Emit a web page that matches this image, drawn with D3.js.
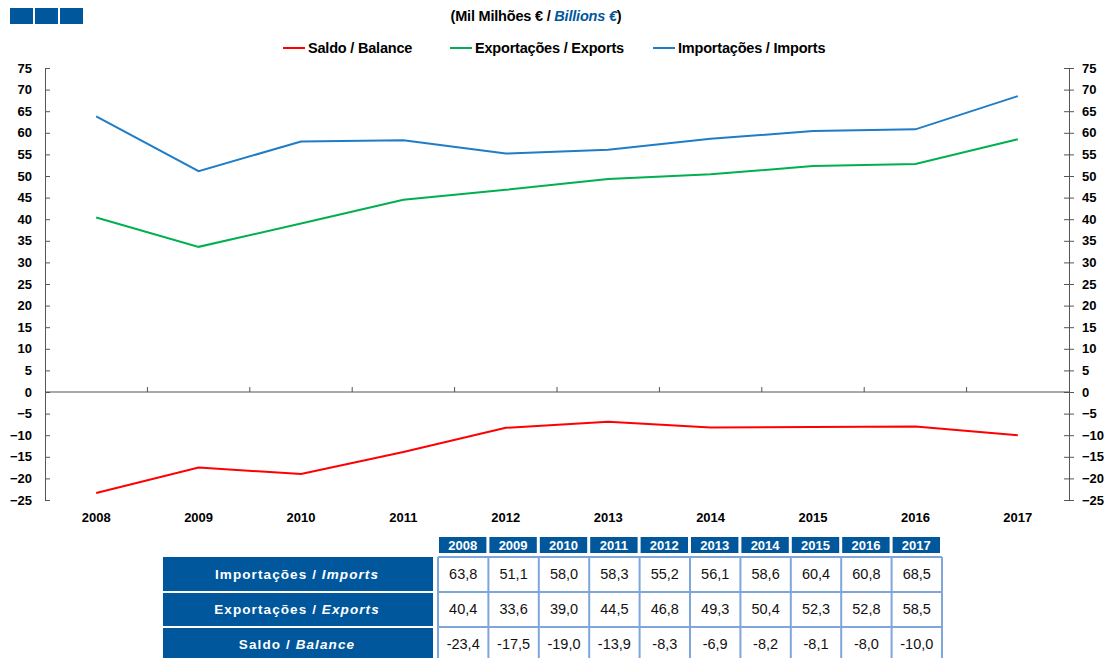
<!DOCTYPE html>
<html>
<head>
<meta charset="utf-8">
<script src="https://cdnjs.cloudflare.com/ajax/libs/d3/7.8.5/d3.min.js"></script>
<style>
  body { margin: 0; background: #fff; }
  svg { font-family: "Liberation Sans", Arial, sans-serif; }
</style>
</head>
<body>
<svg id="chart" width="1105" height="658"></svg>
<script>
const years = ["2008", "2009", "2010", "2011", "2012", "2013", "2014", "2015", "2016", "2017"];
const imports = [63.8, 51.1, 58.0, 58.3, 55.2, 56.1, 58.6, 60.4, 60.8, 68.5];
const exports_ = [40.4, 33.6, 39.0, 44.5, 46.8, 49.3, 50.4, 52.3, 52.8, 58.5];
const balance = [-23.4, -17.5, -19.0, -13.9, -8.3, -6.9, -8.2, -8.1, -8.0, -10.0];
const yTicks = d3.range(-25, 80, 5);

const series = [
  { name: "Saldo / Balance", values: balance, color: "#ff0000" },
  { name: "Exportações / Exports", values: exports_, color: "#00b050" },
  { name: "Importações / Imports", values: imports, color: "#1f7cc6" }
];
const tableRows = [
  { pt: "Importações / ", en: "Imports", values: imports },
  { pt: "Exportações / ", en: "Exports", values: exports_ },
  { pt: "Saldo / ", en: "Balance", values: balance }
];

const navy = "#00579c";
const svg = d3.select("#chart");

// header squares
svg.selectAll("rect.sq").data([0, 1, 2]).enter().append("rect")
  .attr("x", d => 10 + d * 25).attr("y", 8).attr("width", 23).attr("height", 16)
  .attr("fill", navy);

const title = svg.append("text").attr("x", 536).attr("y", 21)
  .attr("text-anchor", "middle").attr("font-size", 14.5).attr("font-weight", "bold")
  .attr("letter-spacing", -0.2);
title.append("tspan").text("(Mil Milhões € / ");
title.append("tspan").attr("fill", navy).attr("font-style", "italic").text("Billions €");
title.append("tspan").text(")");

// legend
const legendX = [283, 450, 653];
const lg = svg.selectAll("g.leg").data(series).enter().append("g")
  .attr("transform", (d, i) => `translate(${legendX[i]},48)`);
lg.append("line").attr("x1", 0).attr("x2", 22).attr("stroke", d => d.color).attr("stroke-width", 2);
lg.append("text").attr("x", 25).attr("y", 5).attr("font-size", 14.5).attr("font-weight", "bold")
  .attr("letter-spacing", -0.2).text(d => d.name);

// scales
const x = d3.scaleBand().domain(years).range([45, 1069]);
const y = d3.scaleLinear().domain([-25, 75]).range([500, 68]);

const axisColor = "#555";
function styleAxis(g) {
  g.select(".domain").attr("stroke", axisColor);
  g.selectAll(".tick line").attr("stroke", axisColor);
  g.selectAll(".tick text").attr("font-size", 13).attr("font-weight", "bold")
    .attr("fill", "#000").attr("font-family", "Liberation Sans, Arial, sans-serif");
}
const left = svg.append("g").attr("transform", "translate(45,0)")
  .call(d3.axisLeft(y).tickValues(yTicks).tickSizeInner(5).tickSizeOuter(0).tickPadding(8));
left.selectAll(".tick line").attr("x2", 5);
styleAxis(left);
const right = svg.append("g").attr("transform", "translate(1069,0)")
  .call(d3.axisRight(y).tickValues(yTicks).tickSizeInner(5).tickSizeOuter(0).tickPadding(8));
right.selectAll(".tick line").attr("x1", -5);
styleAxis(right);

// zero line with category ticks
svg.append("line").attr("x1", 45).attr("x2", 1069).attr("y1", y(0)).attr("y2", y(0))
  .attr("stroke", axisColor);
svg.selectAll("line.ct").data(years.slice(1)).enter().append("line")
  .attr("x1", d => x(d)).attr("x2", d => x(d))
  .attr("y1", y(0) - 5).attr("y2", y(0))
  .attr("stroke", axisColor);

svg.selectAll("text.yr").data(years).enter().append("text")
  .attr("x", d => x(d) + x.bandwidth() / 2).attr("y", 522)
  .attr("text-anchor", "middle").attr("font-size", 13).attr("font-weight", "bold")
  .text(d => d);

// lines
const line = d3.line().x((d, i) => x(years[i]) + x.bandwidth() / 2).y(d => y(d));
svg.selectAll("path.s").data(series).enter().append("path")
  .attr("d", d => line(d.values)).attr("fill", "none")
  .attr("stroke", d => d.color).attr("stroke-width", 2);

// table
const tx = d3.scaleBand().domain(years).range([438, 942]);
const rowTop = 557, rowH = 35;
svg.selectAll("g.hd").data(years).enter().append("g").each(function (d) {
  const g = d3.select(this);
  g.append("rect").attr("x", tx(d) + 1).attr("y", 537).attr("width", tx.bandwidth() - 3)
    .attr("height", 16).attr("fill", navy);
  g.append("text").attr("x", tx(d) + tx.bandwidth() / 2 - 0.5).attr("y", 550)
    .attr("text-anchor", "middle").attr("fill", "#fff").attr("font-size", 13)
    .attr("font-weight", "bold").text(d);
});

tableRows.forEach((r, i) => {
  const top = rowTop + i * rowH;
  svg.append("rect").attr("x", 163).attr("y", top + (i === 0 ? 0 : 1)).attr("width", 270)
    .attr("height", rowH - (i === 0 ? 1 : 2)).attr("fill", navy);
  const t = svg.append("text").attr("x", 297).attr("y", top + 22).attr("text-anchor", "middle")
    .attr("fill", "#fff").attr("font-size", 13.5).attr("font-weight", "bold").attr("letter-spacing", 1.1);
  t.append("tspan").text(r.pt);
  t.append("tspan").attr("font-style", "italic").text(r.en);
  svg.selectAll(null).data(r.values).enter().append("text")
    .attr("x", (d, j) => tx(years[j]) + tx.bandwidth() / 2).attr("y", top + 22)
    .attr("text-anchor", "middle").attr("font-size", 14.5).attr("fill", "#111")
    .text(d => d.toFixed(1).replace(".", ","));
});

// table grid
const gridColor = "#7ea6db";
svg.selectAll("line.gv").data(d3.range(11)).enter().append("line")
  .attr("x1", d => 438 + d * tx.bandwidth()).attr("x2", d => 438 + d * tx.bandwidth())
  .attr("y1", rowTop).attr("y2", 658).attr("stroke", gridColor).attr("stroke-width", 2);
svg.selectAll("line.gh").data(d3.range(3)).enter().append("line")
  .attr("x1", 438).attr("x2", 942)
  .attr("y1", d => rowTop + d * rowH).attr("y2", d => rowTop + d * rowH)
  .attr("stroke", gridColor).attr("stroke-width", 2);
</script>
</body>
</html>
